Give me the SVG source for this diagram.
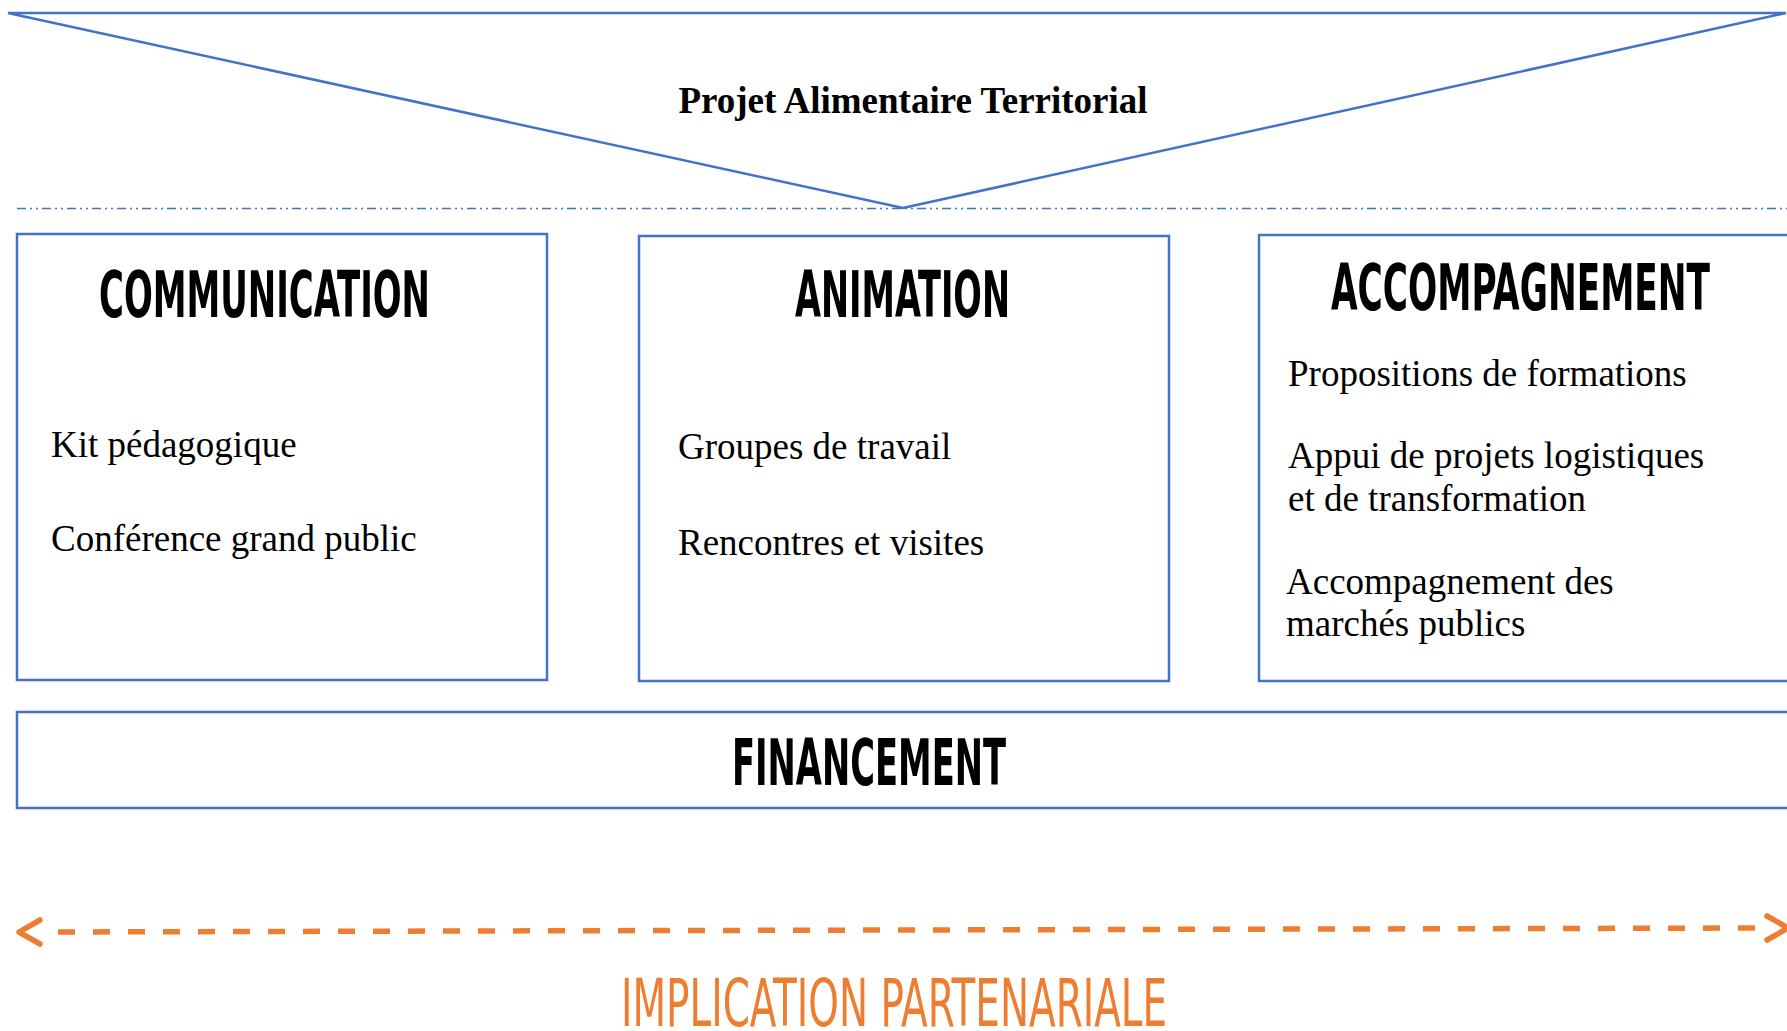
<svg xmlns="http://www.w3.org/2000/svg" width="1787" height="1031" viewBox="0 0 1787 1031">
  <style>
    .frame { fill: none; stroke: #4472C4; stroke-width: 2.5; }
    .head { font-family: "DejaVu Sans Condensed", "DejaVu Sans", sans-serif; font-weight: bold; font-size: 64px; fill: #000000; }
    .body { font-family: "Liberation Serif", "Times New Roman", serif; font-size: 37px; fill: #000000; }
    .title { font-family: "Liberation Serif", "Times New Roman", serif; font-weight: bold; font-size: 37px; fill: #000000; }
    .partner { font-family: "DejaVu Sans Condensed", "DejaVu Sans", sans-serif; font-size: 66px; fill: #ED7D31; }
    .dashdot { fill: none; stroke: #4472C4; stroke-width: 1.6; stroke-dasharray: 9 4 2 4 2 4; }
    .flow { fill: none; stroke: #ED7D31; stroke-width: 5.5; stroke-dasharray: 17 18; stroke-dashoffset: 17; }
  </style>
  <defs>
    <marker id="chevron" markerUnits="userSpaceOnUse" viewBox="-4 -15 30 30" refX="0" refY="0" markerWidth="30" markerHeight="30" orient="auto-start-reverse" overflow="visible">
      <path d="M 0 -12 L 21 0 L 0 12" fill="none" stroke="#ED7D31" stroke-width="5.5" stroke-linecap="round" stroke-linejoin="round"/>
    </marker>
  </defs>

  <rect width="1787" height="1031" fill="#ffffff"/>

  <!-- Inverted triangle heading -->
  <g id="pat">
    <polygon points="8,13 1786,13 903,208" fill="none" stroke="#4472C4" stroke-width="2.5" stroke-linejoin="miter"/>
    <text class="title" x="913" y="113" text-anchor="middle">Projet Alimentaire Territorial</text>
  </g>

  <!-- Separator under the triangle -->
  <line class="dashdot" x1="17" y1="208.5" x2="1787" y2="208.5"/>

  <!-- headings: condensed by a 0.6 horizontal scale -->
  <g id="communication">
    <rect class="frame" x="17" y="234" width="530" height="446"/>
    <text class="head" transform="translate(99 317) scale(0.6 1)" textLength="551.7" lengthAdjust="spacingAndGlyphs">COMMUNICATION</text>
    <text class="body" x="51" y="457">Kit pédagogique</text>
    <text class="body" x="51" y="551">Conférence grand public</text>
  </g>

  <g id="animation">
    <rect class="frame" x="639" y="236" width="530" height="445"/>
    <text class="head" transform="translate(795 317) scale(0.6 1)" textLength="358.3" lengthAdjust="spacingAndGlyphs">ANIMATION</text>
    <text class="body" x="678" y="459">Groupes de travail</text>
    <text class="body" x="678" y="555">Rencontres et visites</text>
  </g>

  <!-- open on the right: the frame runs past the page edge -->
  <g id="accompagnement">
    <path class="frame" d="M 1787 235 H 1259 V 681 H 1787"/>
    <text class="head" transform="translate(1331 310) scale(0.6 1)" textLength="631.7" lengthAdjust="spacingAndGlyphs">ACCOMPAGNEMENT</text>
    <text class="body" x="1288" y="386">Propositions de formations</text>
    <text class="body" x="1288" y="468">Appui de projets logistiques</text>
    <text class="body" x="1288" y="511">et de transformation</text>
    <text class="body" x="1286" y="594">Accompagnement des</text>
    <text class="body" x="1286" y="636">marchés publics</text>
  </g>

  <g id="financement">
    <path class="frame" d="M 1787 712 H 17 V 808 H 1787"/>
    <text class="head" transform="translate(732 785) scale(0.6 1)" textLength="456.7" lengthAdjust="spacingAndGlyphs">FINANCEMENT</text>
  </g>

  <!-- Two-way partnership arrow -->
  <g id="connectors">
    <line class="flow" x1="40" y1="932" x2="1767" y2="928" marker-start="url(#chevron)" marker-end="url(#chevron)"/>
  </g>

  <g id="implication">
    <text class="partner" x="621" y="1026" textLength="546" lengthAdjust="spacingAndGlyphs">IMPLICATION PARTENARIALE</text>
  </g>
</svg>
